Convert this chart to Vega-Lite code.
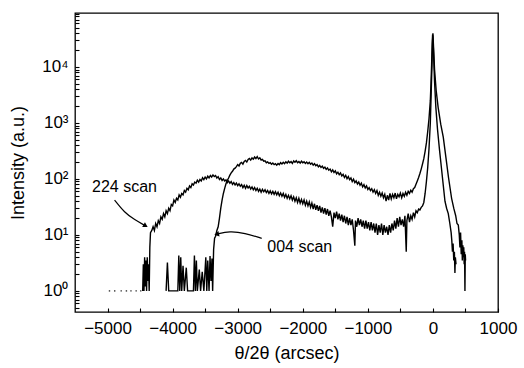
{
  "$schema": "https://vega.github.io/schema/vega-lite/v6.json",
  "autosize": "none",
  "width": 423,
  "height": 299,
  "padding": {"left": 75, "top": 13, "right": 26, "bottom": 56},
  "config": {
    "font": "Liberation Sans",
    "view": {"stroke": "black", "strokeWidth": 1.3},
    "axis": {
      "grid": false,
      "domain": false,
      "tickColor": "black",
      "tickWidth": 1.1,
      "labelColor": "black",
      "titleColor": "black",
      "titleFontWeight": "normal",
      "labelFontSize": 17,
      "titleFontSize": 18,
      "labelFlush": false,
      "zindex": 1
    }
  },
  "datasets": {
    "scans": [
      {"x": -4460, "y": 1, "scan": "224"}, {"x": -4450, "y": 3, "scan": "224"}, {"x": -4440, "y": 1, "scan": "224"}, {"x": -4430, "y": 4, "scan": "224"}, {"x": -4420, "y": 1.2, "scan": "224"}, {"x": -4410, "y": 3.5, "scan": "224"}, {"x": -4400, "y": 1, "scan": "224"}, {"x": -4390, "y": 4, "scan": "224"}, {"x": -4380, "y": 1.5, "scan": "224"}, {"x": -4370, "y": 3, "scan": "224"}, {"x": -4360, "y": 1, "scan": "224"}, {"x": -4350, "y": 6, "scan": "224"},
      {"x": -4340, "y": 11, "scan": "224"}, {"x": -4320, "y": 12, "scan": "224"}, {"x": -4300, "y": 14, "scan": "224"}, {"x": -4280, "y": 12, "scan": "224"}, {"x": -4260, "y": 16, "scan": "224"}, {"x": -4240, "y": 14, "scan": "224"}, {"x": -4220, "y": 18, "scan": "224"}, {"x": -4200, "y": 16, "scan": "224"}, {"x": -4180, "y": 21, "scan": "224"}, {"x": -4160, "y": 19, "scan": "224"}, {"x": -4140, "y": 24, "scan": "224"}, {"x": -4120, "y": 21, "scan": "224"}, {"x": -4100, "y": 27, "scan": "224"}, {"x": -4080, "y": 24, "scan": "224"}, {"x": -4060, "y": 30, "scan": "224"}, {"x": -4040, "y": 27, "scan": "224"}, {"x": -4020, "y": 35, "scan": "224"}, {"x": -4000, "y": 33, "scan": "224"}, {"x": -3980, "y": 42, "scan": "224"}, {"x": -3960, "y": 38, "scan": "224"}, {"x": -3940, "y": 45, "scan": "224"}, {"x": -3920, "y": 42, "scan": "224"}, {"x": -3900, "y": 52, "scan": "224"}, {"x": -3880, "y": 47, "scan": "224"}, {"x": -3860, "y": 55, "scan": "224"}, {"x": -3840, "y": 52, "scan": "224"}, {"x": -3820, "y": 62, "scan": "224"}, {"x": -3800, "y": 58, "scan": "224"}, {"x": -3780, "y": 68, "scan": "224"}, {"x": -3760, "y": 64, "scan": "224"}, {"x": -3740, "y": 75, "scan": "224"}, {"x": -3720, "y": 70, "scan": "224"}, {"x": -3700, "y": 82, "scan": "224"}, {"x": -3680, "y": 78, "scan": "224"}, {"x": -3660, "y": 88, "scan": "224"}, {"x": -3640, "y": 84, "scan": "224"}, {"x": -3620, "y": 95, "scan": "224"}, {"x": -3600, "y": 88, "scan": "224"}, {"x": -3580, "y": 98, "scan": "224"}, {"x": -3560, "y": 92, "scan": "224"}, {"x": -3540, "y": 105, "scan": "224"}, {"x": -3520, "y": 97, "scan": "224"}, {"x": -3500, "y": 108, "scan": "224"}, {"x": -3480, "y": 100, "scan": "224"}, {"x": -3460, "y": 112, "scan": "224"}, {"x": -3440, "y": 104, "scan": "224"}, {"x": -3420, "y": 115, "scan": "224"}, {"x": -3400, "y": 108, "scan": "224"}, {"x": -3380, "y": 118, "scan": "224"}, {"x": -3360, "y": 110, "scan": "224"}, {"x": -3340, "y": 115, "scan": "224"}, {"x": -3320, "y": 104, "scan": "224"}, {"x": -3300, "y": 110, "scan": "224"}, {"x": -3280, "y": 98, "scan": "224"}, {"x": -3260, "y": 104, "scan": "224"}, {"x": -3240, "y": 94, "scan": "224"}, {"x": -3220, "y": 100, "scan": "224"}, {"x": -3200, "y": 92, "scan": "224"}, {"x": -3180, "y": 96, "scan": "224"}, {"x": -3160, "y": 86, "scan": "224"}, {"x": -3140, "y": 92, "scan": "224"}, {"x": -3120, "y": 84, "scan": "224"}, {"x": -3100, "y": 90, "scan": "224"}, {"x": -3080, "y": 80, "scan": "224"}, {"x": -3060, "y": 86, "scan": "224"}, {"x": -3040, "y": 78, "scan": "224"}, {"x": -3020, "y": 84, "scan": "224"}, {"x": -3000, "y": 76, "scan": "224"}, {"x": -2980, "y": 82, "scan": "224"}, {"x": -2960, "y": 74, "scan": "224"}, {"x": -2940, "y": 79, "scan": "224"}, {"x": -2920, "y": 70, "scan": "224"}, {"x": -2900, "y": 77, "scan": "224"}, {"x": -2880, "y": 68, "scan": "224"}, {"x": -2860, "y": 76, "scan": "224"}, {"x": -2840, "y": 69, "scan": "224"}, {"x": -2820, "y": 74, "scan": "224"}, {"x": -2800, "y": 66, "scan": "224"}, {"x": -2780, "y": 72, "scan": "224"}, {"x": -2760, "y": 64, "scan": "224"}, {"x": -2740, "y": 70, "scan": "224"}, {"x": -2720, "y": 62, "scan": "224"}, {"x": -2700, "y": 68, "scan": "224"}, {"x": -2680, "y": 60, "scan": "224"}, {"x": -2660, "y": 66, "scan": "224"}, {"x": -2640, "y": 58, "scan": "224"}, {"x": -2620, "y": 65, "scan": "224"}, {"x": -2600, "y": 59, "scan": "224"}, {"x": -2580, "y": 64, "scan": "224"}, {"x": -2560, "y": 57, "scan": "224"}, {"x": -2540, "y": 62, "scan": "224"}, {"x": -2520, "y": 55, "scan": "224"}, {"x": -2500, "y": 61, "scan": "224"}, {"x": -2480, "y": 54, "scan": "224"}, {"x": -2460, "y": 60, "scan": "224"}, {"x": -2440, "y": 53, "scan": "224"}, {"x": -2420, "y": 59, "scan": "224"}, {"x": -2400, "y": 52, "scan": "224"}, {"x": -2380, "y": 58, "scan": "224"}, {"x": -2360, "y": 50, "scan": "224"}, {"x": -2340, "y": 56, "scan": "224"}, {"x": -2320, "y": 49, "scan": "224"}, {"x": -2300, "y": 55, "scan": "224"}, {"x": -2280, "y": 47, "scan": "224"}, {"x": -2260, "y": 53, "scan": "224"}, {"x": -2240, "y": 45, "scan": "224"}, {"x": -2220, "y": 51, "scan": "224"}, {"x": -2200, "y": 44, "scan": "224"}, {"x": -2180, "y": 50, "scan": "224"}, {"x": -2160, "y": 42, "scan": "224"}, {"x": -2140, "y": 48, "scan": "224"}, {"x": -2120, "y": 40, "scan": "224"}, {"x": -2100, "y": 46, "scan": "224"}, {"x": -2080, "y": 38, "scan": "224"}, {"x": -2060, "y": 45, "scan": "224"}, {"x": -2040, "y": 37, "scan": "224"}, {"x": -2020, "y": 43, "scan": "224"}, {"x": -2000, "y": 36, "scan": "224"}, {"x": -1980, "y": 42, "scan": "224"}, {"x": -1960, "y": 34, "scan": "224"}, {"x": -1940, "y": 40, "scan": "224"}, {"x": -1920, "y": 33, "scan": "224"}, {"x": -1900, "y": 39, "scan": "224"}, {"x": -1880, "y": 31, "scan": "224"}, {"x": -1860, "y": 37, "scan": "224"}, {"x": -1840, "y": 29, "scan": "224"}, {"x": -1820, "y": 36, "scan": "224"}, {"x": -1800, "y": 28, "scan": "224"}, {"x": -1780, "y": 34, "scan": "224"}, {"x": -1760, "y": 27, "scan": "224"}, {"x": -1740, "y": 33, "scan": "224"}, {"x": -1720, "y": 25, "scan": "224"}, {"x": -1700, "y": 31, "scan": "224"}, {"x": -1680, "y": 24, "scan": "224"}, {"x": -1660, "y": 30, "scan": "224"}, {"x": -1640, "y": 23, "scan": "224"}, {"x": -1620, "y": 29, "scan": "224"}, {"x": -1600, "y": 22, "scan": "224"}, {"x": -1580, "y": 27, "scan": "224"}, {"x": -1560, "y": 21, "scan": "224"}, {"x": -1540, "y": 14, "scan": "224"}, {"x": -1520, "y": 25, "scan": "224"}, {"x": -1500, "y": 20, "scan": "224"}, {"x": -1480, "y": 26, "scan": "224"}, {"x": -1460, "y": 19, "scan": "224"}, {"x": -1440, "y": 24, "scan": "224"}, {"x": -1420, "y": 18, "scan": "224"}, {"x": -1400, "y": 23, "scan": "224"}, {"x": -1380, "y": 17, "scan": "224"}, {"x": -1360, "y": 22, "scan": "224"}, {"x": -1340, "y": 16, "scan": "224"}, {"x": -1320, "y": 21, "scan": "224"}, {"x": -1300, "y": 15, "scan": "224"}, {"x": -1280, "y": 20, "scan": "224"}, {"x": -1260, "y": 15, "scan": "224"}, {"x": -1240, "y": 19, "scan": "224"}, {"x": -1220, "y": 12, "scan": "224"}, {"x": -1200, "y": 6.4, "scan": "224"}, {"x": -1190, "y": 18, "scan": "224"}, {"x": -1170, "y": 14, "scan": "224"}, {"x": -1150, "y": 20, "scan": "224"}, {"x": -1130, "y": 15, "scan": "224"}, {"x": -1110, "y": 19, "scan": "224"}, {"x": -1090, "y": 14, "scan": "224"}, {"x": -1070, "y": 18, "scan": "224"}, {"x": -1050, "y": 13, "scan": "224"}, {"x": -1030, "y": 18, "scan": "224"}, {"x": -1010, "y": 13, "scan": "224"}, {"x": -990, "y": 17, "scan": "224"}, {"x": -970, "y": 12, "scan": "224"}, {"x": -950, "y": 17, "scan": "224"}, {"x": -930, "y": 12, "scan": "224"}, {"x": -910, "y": 16, "scan": "224"}, {"x": -890, "y": 11, "scan": "224"}, {"x": -870, "y": 16, "scan": "224"}, {"x": -850, "y": 10, "scan": "224"}, {"x": -830, "y": 15, "scan": "224"}, {"x": -810, "y": 11, "scan": "224"}, {"x": -790, "y": 16, "scan": "224"}, {"x": -770, "y": 10, "scan": "224"}, {"x": -750, "y": 15, "scan": "224"}, {"x": -730, "y": 11, "scan": "224"}, {"x": -710, "y": 14, "scan": "224"}, {"x": -690, "y": 10, "scan": "224"}, {"x": -670, "y": 15, "scan": "224"}, {"x": -650, "y": 11, "scan": "224"}, {"x": -630, "y": 16, "scan": "224"}, {"x": -610, "y": 12, "scan": "224"}, {"x": -590, "y": 18, "scan": "224"}, {"x": -570, "y": 13, "scan": "224"}, {"x": -550, "y": 20, "scan": "224"}, {"x": -530, "y": 14, "scan": "224"}, {"x": -510, "y": 21, "scan": "224"}, {"x": -490, "y": 15, "scan": "224"}, {"x": -470, "y": 19, "scan": "224"}, {"x": -450, "y": 14, "scan": "224"}, {"x": -430, "y": 22, "scan": "224"}, {"x": -410, "y": 5, "scan": "224"}, {"x": -400, "y": 18, "scan": "224"}, {"x": -380, "y": 24, "scan": "224"}, {"x": -360, "y": 17, "scan": "224"}, {"x": -340, "y": 22, "scan": "224"}, {"x": -320, "y": 19, "scan": "224"}, {"x": -300, "y": 25, "scan": "224"}, {"x": -280, "y": 21, "scan": "224"}, {"x": -260, "y": 27, "scan": "224"}, {"x": -240, "y": 25, "scan": "224"}, {"x": -220, "y": 29, "scan": "224"}, {"x": -200, "y": 28, "scan": "224"}, {"x": -180, "y": 31, "scan": "224"}, {"x": -160, "y": 33, "scan": "224"}, {"x": -140, "y": 38, "scan": "224"}, {"x": -120, "y": 55, "scan": "224"}, {"x": -100, "y": 90, "scan": "224"}, {"x": -80, "y": 160, "scan": "224"}, {"x": -60, "y": 350, "scan": "224"}, {"x": -40, "y": 1000, "scan": "224"}, {"x": -25, "y": 4000, "scan": "224"}, {"x": -12, "y": 14000, "scan": "224"}, {"x": -5, "y": 30000, "scan": "224"}, {"x": 0, "y": 40000, "scan": "224"}, {"x": 10, "y": 22000, "scan": "224"}, {"x": 25, "y": 9000, "scan": "224"}, {"x": 50, "y": 3800, "scan": "224"}, {"x": 80, "y": 1900, "scan": "224"}, {"x": 120, "y": 950, "scan": "224"}, {"x": 159, "y": 560, "scan": "224"}, {"x": 200, "y": 240, "scan": "224"}, {"x": 240, "y": 105, "scan": "224"}, {"x": 287, "y": 45, "scan": "224"}, {"x": 320, "y": 30, "scan": "224"}, {"x": 350, "y": 22, "scan": "224"}, {"x": 370, "y": 16, "scan": "224"}, {"x": 390, "y": 15, "scan": "224"}, {"x": 405, "y": 10, "scan": "224"}, {"x": 415, "y": 6, "scan": "224"}, {"x": 425, "y": 11, "scan": "224"}, {"x": 435, "y": 4.5, "scan": "224"}, {"x": 445, "y": 8, "scan": "224"}, {"x": 452, "y": 3.5, "scan": "224"}, {"x": 460, "y": 6.5, "scan": "224"}, {"x": 467, "y": 4, "scan": "224"}, {"x": 474, "y": 6, "scan": "224"}, {"x": 480, "y": 3, "scan": "224"}, {"x": 486, "y": 5, "scan": "224"}, {"x": 492, "y": 1, "scan": "224"}, {"x": 497, "y": 4.5, "scan": "224"}, {"x": 502, "y": 3.5, "scan": "224"},

      {"x": -4100, "y": 1, "scan": "004"}, {"x": -4080, "y": 3.2, "scan": "004"}, {"x": -4060, "y": 1, "scan": "004"}, {"x": -3920, "y": 1, "scan": "004"}, {"x": -3905, "y": 4.3, "scan": "004"}, {"x": -3890, "y": 1, "scan": "004"}, {"x": -3875, "y": 4, "scan": "004"}, {"x": -3860, "y": 1, "scan": "004"}, {"x": -3840, "y": 2.8, "scan": "004"}, {"x": -3820, "y": 1, "scan": "004"}, {"x": -3790, "y": 2.6, "scan": "004"}, {"x": -3770, "y": 1, "scan": "004"}, {"x": -3680, "y": 1, "scan": "004"}, {"x": -3665, "y": 4.3, "scan": "004"}, {"x": -3650, "y": 1, "scan": "004"}, {"x": -3635, "y": 3.5, "scan": "004"}, {"x": -3620, "y": 1, "scan": "004"}, {"x": -3590, "y": 2.4, "scan": "004"}, {"x": -3570, "y": 1, "scan": "004"}, {"x": -3545, "y": 2.2, "scan": "004"}, {"x": -3520, "y": 1, "scan": "004"}, {"x": -3490, "y": 4, "scan": "004"}, {"x": -3475, "y": 1, "scan": "004"}, {"x": -3460, "y": 3.5, "scan": "004"}, {"x": -3440, "y": 1, "scan": "004"}, {"x": -3425, "y": 4.2, "scan": "004"}, {"x": -3410, "y": 1.5, "scan": "004"}, {"x": -3395, "y": 3.8, "scan": "004"}, {"x": -3385, "y": 1, "scan": "004"}, {"x": -3370, "y": 5.5, "scan": "004"},
      {"x": -3355, "y": 8.7, "scan": "004"}, {"x": -3340, "y": 9.5, "scan": "004"}, {"x": -3320, "y": 12, "scan": "004"}, {"x": -3300, "y": 14, "scan": "004"}, {"x": -3280, "y": 20, "scan": "004"}, {"x": -3260, "y": 30, "scan": "004"}, {"x": -3240, "y": 42, "scan": "004"}, {"x": -3220, "y": 55, "scan": "004"}, {"x": -3200, "y": 68, "scan": "004"}, {"x": -3180, "y": 82, "scan": "004"}, {"x": -3160, "y": 94, "scan": "004"}, {"x": -3140, "y": 104, "scan": "004"}, {"x": -3120, "y": 117, "scan": "004"}, {"x": -3100, "y": 128, "scan": "004"}, {"x": -3080, "y": 137, "scan": "004"}, {"x": -3060, "y": 150, "scan": "004"}, {"x": -3040, "y": 156, "scan": "004"}, {"x": -3020, "y": 166, "scan": "004"}, {"x": -3000, "y": 180, "scan": "004"}, {"x": -2980, "y": 170, "scan": "004"}, {"x": -2960, "y": 190, "scan": "004"}, {"x": -2940, "y": 197, "scan": "004"}, {"x": -2920, "y": 183, "scan": "004"}, {"x": -2900, "y": 205, "scan": "004"}, {"x": -2880, "y": 214, "scan": "004"}, {"x": -2860, "y": 200, "scan": "004"}, {"x": -2840, "y": 222, "scan": "004"}, {"x": -2820, "y": 232, "scan": "004"}, {"x": -2800, "y": 217, "scan": "004"}, {"x": -2780, "y": 237, "scan": "004"}, {"x": -2760, "y": 225, "scan": "004"}, {"x": -2740, "y": 246, "scan": "004"}, {"x": -2720, "y": 231, "scan": "004"}, {"x": -2700, "y": 250, "scan": "004"}, {"x": -2680, "y": 227, "scan": "004"}, {"x": -2660, "y": 238, "scan": "004"}, {"x": -2640, "y": 218, "scan": "004"}, {"x": -2620, "y": 224, "scan": "004"}, {"x": -2600, "y": 207, "scan": "004"}, {"x": -2580, "y": 211, "scan": "004"}, {"x": -2560, "y": 195, "scan": "004"}, {"x": -2540, "y": 202, "scan": "004"}, {"x": -2520, "y": 189, "scan": "004"}, {"x": -2500, "y": 195, "scan": "004"}, {"x": -2480, "y": 183, "scan": "004"}, {"x": -2460, "y": 192, "scan": "004"}, {"x": -2440, "y": 180, "scan": "004"}, {"x": -2420, "y": 187, "scan": "004"}, {"x": -2400, "y": 176, "scan": "004"}, {"x": -2380, "y": 189, "scan": "004"}, {"x": -2360, "y": 180, "scan": "004"}, {"x": -2340, "y": 195, "scan": "004"}, {"x": -2320, "y": 185, "scan": "004"}, {"x": -2300, "y": 198, "scan": "004"}, {"x": -2280, "y": 187, "scan": "004"}, {"x": -2260, "y": 202, "scan": "004"}, {"x": -2240, "y": 192, "scan": "004"}, {"x": -2220, "y": 207, "scan": "004"}, {"x": -2200, "y": 195, "scan": "004"}, {"x": -2180, "y": 204, "scan": "004"}, {"x": -2160, "y": 189, "scan": "004"}, {"x": -2140, "y": 209, "scan": "004"}, {"x": -2120, "y": 198, "scan": "004"}, {"x": -2100, "y": 211, "scan": "004"}, {"x": -2080, "y": 195, "scan": "004"}, {"x": -2060, "y": 204, "scan": "004"}, {"x": -2040, "y": 192, "scan": "004"}, {"x": -2020, "y": 207, "scan": "004"}, {"x": -2000, "y": 194, "scan": "004"}, {"x": -1980, "y": 202, "scan": "004"}, {"x": -1960, "y": 189, "scan": "004"}, {"x": -1940, "y": 200, "scan": "004"}, {"x": -1920, "y": 187, "scan": "004"}, {"x": -1900, "y": 198, "scan": "004"}, {"x": -1880, "y": 183, "scan": "004"}, {"x": -1860, "y": 192, "scan": "004"}, {"x": -1840, "y": 176, "scan": "004"}, {"x": -1820, "y": 187, "scan": "004"}, {"x": -1800, "y": 172, "scan": "004"}, {"x": -1780, "y": 180, "scan": "004"}, {"x": -1760, "y": 165, "scan": "004"}, {"x": -1740, "y": 174, "scan": "004"}, {"x": -1720, "y": 160, "scan": "004"}, {"x": -1700, "y": 169, "scan": "004"}, {"x": -1680, "y": 154, "scan": "004"}, {"x": -1660, "y": 163, "scan": "004"}, {"x": -1640, "y": 148, "scan": "004"}, {"x": -1620, "y": 157, "scan": "004"}, {"x": -1600, "y": 143, "scan": "004"}, {"x": -1580, "y": 150, "scan": "004"}, {"x": -1560, "y": 134, "scan": "004"}, {"x": -1540, "y": 145, "scan": "004"}, {"x": -1520, "y": 130, "scan": "004"}, {"x": -1500, "y": 139, "scan": "004"}, {"x": -1480, "y": 123, "scan": "004"}, {"x": -1460, "y": 132, "scan": "004"}, {"x": -1440, "y": 119, "scan": "004"}, {"x": -1420, "y": 128, "scan": "004"}, {"x": -1400, "y": 113, "scan": "004"}, {"x": -1380, "y": 121, "scan": "004"}, {"x": -1360, "y": 106, "scan": "004"}, {"x": -1340, "y": 116, "scan": "004"}, {"x": -1320, "y": 101, "scan": "004"}, {"x": -1300, "y": 110, "scan": "004"}, {"x": -1280, "y": 97, "scan": "004"}, {"x": -1260, "y": 104, "scan": "004"}, {"x": -1240, "y": 90, "scan": "004"}, {"x": -1220, "y": 99, "scan": "004"}, {"x": -1200, "y": 86, "scan": "004"}, {"x": -1180, "y": 92, "scan": "004"}, {"x": -1160, "y": 81, "scan": "004"}, {"x": -1140, "y": 88, "scan": "004"}, {"x": -1120, "y": 77, "scan": "004"}, {"x": -1100, "y": 84, "scan": "004"}, {"x": -1080, "y": 72, "scan": "004"}, {"x": -1060, "y": 79, "scan": "004"}, {"x": -1040, "y": 69, "scan": "004"}, {"x": -1020, "y": 75, "scan": "004"}, {"x": -1000, "y": 65, "scan": "004"}, {"x": -980, "y": 70, "scan": "004"}, {"x": -960, "y": 62, "scan": "004"}, {"x": -940, "y": 67, "scan": "004"}, {"x": -920, "y": 58, "scan": "004"}, {"x": -900, "y": 64, "scan": "004"}, {"x": -880, "y": 55, "scan": "004"}, {"x": -860, "y": 62, "scan": "004"}, {"x": -840, "y": 51, "scan": "004"}, {"x": -820, "y": 58, "scan": "004"}, {"x": -800, "y": 49, "scan": "004"}, {"x": -780, "y": 56, "scan": "004"}, {"x": -760, "y": 46, "scan": "004"}, {"x": -740, "y": 53, "scan": "004"}, {"x": -720, "y": 40, "scan": "004"}, {"x": -700, "y": 51, "scan": "004"}, {"x": -680, "y": 42, "scan": "004"}, {"x": -660, "y": 55, "scan": "004"}, {"x": -640, "y": 44, "scan": "004"}, {"x": -620, "y": 53, "scan": "004"}, {"x": -600, "y": 46, "scan": "004"}, {"x": -580, "y": 56, "scan": "004"}, {"x": -560, "y": 44, "scan": "004"}, {"x": -540, "y": 53, "scan": "004"}, {"x": -520, "y": 48, "scan": "004"}, {"x": -500, "y": 56, "scan": "004"}, {"x": -480, "y": 46, "scan": "004"}, {"x": -460, "y": 55, "scan": "004"}, {"x": -440, "y": 49, "scan": "004"}, {"x": -420, "y": 58, "scan": "004"}, {"x": -400, "y": 51, "scan": "004"}, {"x": -380, "y": 60, "scan": "004"}, {"x": -360, "y": 55, "scan": "004"}, {"x": -340, "y": 63, "scan": "004"}, {"x": -320, "y": 58, "scan": "004"}, {"x": -300, "y": 67, "scan": "004"}, {"x": -280, "y": 70, "scan": "004"}, {"x": -260, "y": 80, "scan": "004"}, {"x": -240, "y": 92, "scan": "004"}, {"x": -220, "y": 106, "scan": "004"}, {"x": -200, "y": 125, "scan": "004"}, {"x": -180, "y": 150, "scan": "004"}, {"x": -160, "y": 185, "scan": "004"}, {"x": -140, "y": 230, "scan": "004"}, {"x": -120, "y": 310, "scan": "004"}, {"x": -100, "y": 440, "scan": "004"}, {"x": -80, "y": 700, "scan": "004"}, {"x": -60, "y": 1200, "scan": "004"}, {"x": -40, "y": 2500, "scan": "004"}, {"x": -30, "y": 5000, "scan": "004"}, {"x": -20, "y": 11000, "scan": "004"}, {"x": -12, "y": 25000, "scan": "004"}, {"x": -5, "y": 38000, "scan": "004"}, {"x": 0, "y": 35000, "scan": "004"}, {"x": 10, "y": 17000, "scan": "004"}, {"x": 25, "y": 5500, "scan": "004"}, {"x": 45, "y": 1900, "scan": "004"}, {"x": 70, "y": 780, "scan": "004"}, {"x": 100, "y": 340, "scan": "004"}, {"x": 130, "y": 160, "scan": "004"}, {"x": 160, "y": 75, "scan": "004"}, {"x": 185, "y": 40, "scan": "004"}, {"x": 210, "y": 30, "scan": "004"}, {"x": 236, "y": 24, "scan": "004"}, {"x": 260, "y": 16, "scan": "004"}, {"x": 280, "y": 11, "scan": "004"}, {"x": 290, "y": 8, "scan": "004"}, {"x": 300, "y": 5, "scan": "004"}, {"x": 310, "y": 7, "scan": "004"}, {"x": 320, "y": 3.5, "scan": "004"}, {"x": 330, "y": 5, "scan": "004"}, {"x": 338, "y": 2.1, "scan": "004"}, {"x": 345, "y": 4, "scan": "004"}, {"x": 355, "y": 3, "scan": "004"}
    ],
    "dots": [
      {"x": -4970, "y": 1}, {"x": -4890, "y": 1}, {"x": -4790, "y": 1}, {"x": -4710, "y": 1}, {"x": -4640, "y": 1}, {"x": -4560, "y": 1}, {"x": -4490, "y": 1}
    ],
    "arrows": [
      {"x": -4892, "y": 42, "arrow": "224"}, {"x": -4738, "y": 25, "arrow": "224"}, {"x": -4585, "y": 18.7, "arrow": "224"}, {"x": -4415, "y": 14.5, "arrow": "224"},
      {"x": -2631, "y": 8.7, "arrow": "004"}, {"x": -2892, "y": 10.8, "arrow": "004"}, {"x": -3123, "y": 11.7, "arrow": "004"}, {"x": -3323, "y": 10.3, "arrow": "004"}
    ],
    "labels": [
      {"x": -4740, "y": 73, "text": "224 scan"},
      {"x": -2046, "y": 6.2, "text": "004 scan"}
    ]
  },
  "encoding": {
    "x": {
      "field": "x", "type": "quantitative",
      "scale": {"domain": [-5500, 1000], "nice": false, "zero": false},
      "axis": {
        "title": "θ/2θ (arcsec)",
        "values": [-5000, -4500, -4000, -3500, -3000, -2500, -2000, -1500, -1000, -500, 0, 500, 1000],
        "format": "d",
        "labelExpr": "datum.value % 1000 == 0 ? datum.label : ''",
        "offset": -4,
        "tickSize": 4,
        "labelPadding": 8,
        "titlePadding": 8
      }
    },
    "y": {
      "field": "y", "type": "quantitative",
      "scale": {"type": "log", "domain": [0.42, 92000], "nice": false},
      "axis": {
        "title": "Intensity (a.u.)",
        "values": [0.5, 0.6, 0.7, 0.8, 0.9, 1, 2, 3, 4, 5, 6, 7, 8, 9, 10, 20, 30, 40, 50, 60, 70, 80, 90, 100, 200, 300, 400, 500, 600, 700, 800, 900, 1000, 2000, 3000, 4000, 5000, 6000, 7000, 8000, 9000, 10000, 20000, 30000, 40000, 50000, 60000, 70000, 80000, 90000],
        "labelExpr": "datum.value == 1 ? '10⁰' : datum.value == 10 ? '10¹' : datum.value == 100 ? '10²' : datum.value == 1000 ? '10³' : datum.value == 10000 ? '10⁴' : ''",
        "offset": -4,
        "tickSize": 4,
        "labelPadding": 7,
        "titlePadding": 14
      }
    }
  },
  "layer": [
    {
      "data": {"name": "scans"},
      "mark": {"type": "line", "color": "black", "strokeWidth": 1.4},
      "encoding": {"detail": {"field": "scan"}}
    },
    {
      "data": {"name": "dots"},
      "mark": {"type": "point", "shape": "square", "filled": true, "color": "black", "size": 2, "opacity": 0.8}
    },
    {
      "data": {"name": "arrows"},
      "mark": {"type": "line", "color": "black", "strokeWidth": 1.2, "interpolate": "basis"},
      "encoding": {"detail": {"field": "arrow"}}
    },
    {
      "data": {"name": "arrows"},
      "transform": [{"filter": "datum.arrow == '224' && datum.x == -4415"}],
      "mark": {"type": "point", "shape": "triangle-right", "filled": true, "color": "black", "size": 30, "angle": 30, "opacity": 1}
    },
    {
      "data": {"name": "arrows"},
      "transform": [{"filter": "datum.arrow == '004' && datum.x == -3323"}],
      "mark": {"type": "point", "shape": "triangle-left", "filled": true, "color": "black", "size": 30, "angle": -12, "opacity": 1}
    },
    {
      "data": {"name": "labels"},
      "mark": {"type": "text", "fontSize": 16, "color": "black", "align": "center", "baseline": "middle", "font": "Liberation Sans"},
      "encoding": {"text": {"field": "text"}}
    }
  ]
}
